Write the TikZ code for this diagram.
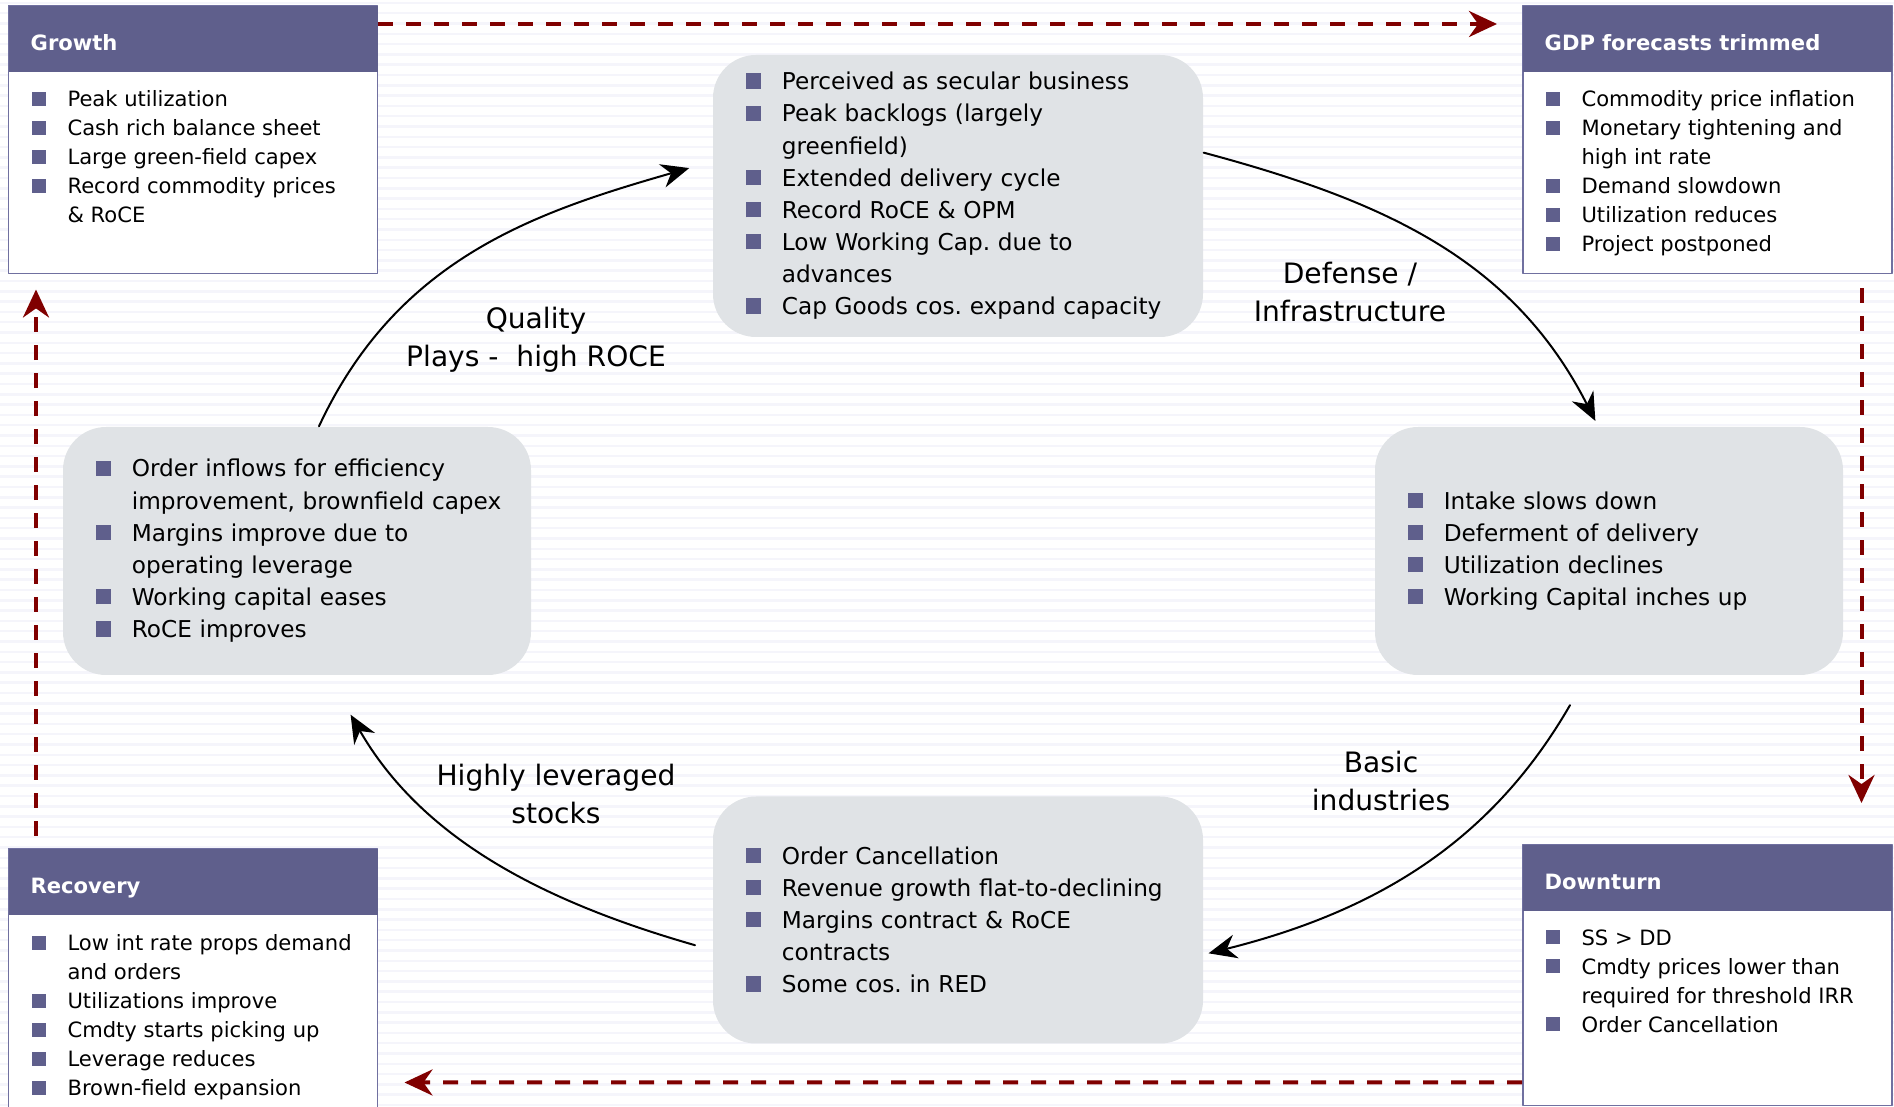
\documentclass[tikz,border=0pt]{standalone}
\usepackage{fontspec}
\setmainfont{DejaVu Sans}
\usepackage{xcolor}
\usetikzlibrary{arrows.meta,positioning}
\frenchspacing

\definecolor{hdr}{RGB}{95,95,140}
\definecolor{frame}{RGB}{112,112,160}
\definecolor{gbox}{RGB}{224,227,230}
\definecolor{dred}{RGB}{128,0,0}
\definecolor{stripe}{RGB}{245,245,251}

% bullet lines: \bl for a new item, \cn for a wrapped line
\newlength{\bulind}
\setlength{\bulind}{10.2pt}
\newcommand{\bl}[1]{\mbox{\makebox[\bulind][l]{\textcolor{hdr}{\rule[0.05em]{0.66em}{0.66em}}}#1}}
\newcommand{\cn}[1]{\mbox{\hspace*{\bulind}#1}}

\begin{document}
\begin{tikzpicture}[x=0.1mm, y=0.1mm, line cap=round, line join=round,
	cornerbox/.style={draw=frame, line width=0.15mm, fill=white, anchor=north west, minimum width=36.9mm, inner sep=0pt},
	hdrbar/.style={fill=hdr, anchor=north west, minimum height=6.6mm, text width=32.5mm, inner xsep=2.2mm, inner ysep=0pt, text height=6.8pt, text depth=0pt, align=left, text=white, font=\fontsize{6}{7}\selectfont\bfseries},
	cornertext/.style={inner sep=0pt, align=left, font=\fontsize{6}{8.25}\selectfont},
	phase/.style={rounded corners=4.3mm, fill=gbox, inner xsep=3.3mm, inner ysep=0pt, align=left, font=\fontsize{6.6}{9.15}\selectfont},
	cyclelbl/.style={align=center, font=\fontsize{8}{10.8}\selectfont},
	cyclearr/.style={line width=0.2mm, -{Stealth[length=2.8mm,width=2.4mm]}},
	flowarr/.style={dred, line width=0.4mm, line cap=butt, dash pattern=on 1.5mm off 1.3mm, -{Stealth[length=2.8mm,width=2.6mm]}}]
	
	\useasboundingbox (0,0) rectangle (1894,1107);
	
	% Faint ruled background
	\foreach \yy in {2,12.3,...,1107}
	\draw[stripe, line width=0.25mm] (0,\yy) -- (1894,\yy);
	
	% Corner boxes of the macro cycle
	\node[cornerbox, minimum height=26.8mm] (growth) at (8,1102) {};
	\node[hdrbar] (growthhd) at (growth.north west) {Growth};
	\node[cornertext, below right=8.5mm and 2.3mm of growth.north west] (growthtx) {%
		\bl{Peak utilization}\\
		\bl{Cash rich balance sheet}\\
		\bl{Large green-field capex}\\
		\bl{Record commodity prices}\\
		\cn{\& RoCE}};
	
	\node[cornerbox, minimum height=26.8mm] (gdp) at (1522,1102) {};
	\node[hdrbar] (gdphd) at (gdp.north west) {GDP forecasts trimmed};
	\node[cornertext, below right=8.5mm and 2.3mm of gdp.north west] (gdptx) {%
		\bl{Commodity price inflation}\\
		\bl{Monetary tightening and}\\
		\cn{high int rate}\\
		\bl{Demand slowdown}\\
		\bl{Utilization reduces}\\
		\bl{Project postponed}};
	
	\node[cornerbox, minimum height=26.1mm] (downturn) at (1522,263) {};
	\node[hdrbar] (downturnhd) at (downturn.north west) {Downturn};
	\node[cornertext, below right=8.5mm and 2.3mm of downturn.north west] (downturntx) {%
		\bl{SS > DD}\\
		\bl{Cmdty prices lower than}\\
		\cn{required for threshold IRR}\\
		\bl{Order Cancellation}};
	
	\node[cornerbox, minimum height=26.8mm] (recovery) at (8,259) {};
	\node[hdrbar] (recoveryhd) at (recovery.north west) {Recovery};
	\node[cornertext, below right=8.6mm and 2.3mm of recovery.north west] (recoverytx) {%
		\bl{Low int rate props demand}\\
		\cn{and orders}\\
		\bl{Utilizations improve}\\
		\bl{Cmdty starts picking up}\\
		\bl{Leverage reduces}\\
		\bl{Brown-field expansion}};
	
	% Dashed flow round the corners
	\draw[flowarr] ([yshift=-1.9mm]growth.north east) -- ([xshift=-2.5mm,yshift=-1.9mm]gdp.north west);
	\draw[flowarr] ([xshift=-3.1mm,yshift=-1.4mm]gdp.south east) -- ([xshift=-3.1mm,yshift=4.1mm]downturn.north east);
	\draw[flowarr] ([yshift=2.4mm]downturn.south west) -- ([xshift=2.6mm,yshift=3.5mm]recovery.south east);
	\draw[flowarr] ([xshift=2.8mm,yshift=1.2mm]recovery.north west) -- ([xshift=2.8mm,yshift=-1.5mm]growth.south west);
	
	% Phases of the capital goods cycle
	\node[phase, text width=42.4mm, minimum height=28.2mm] (boom) at (958,911) {%
		\bl{Perceived as secular business}\\
		\bl{Peak backlogs (largely}\\
		\cn{greenfield)}\\
		\bl{Extended delivery cycle}\\
		\bl{Record RoCE \& OPM}\\
		\bl{Low Working Cap. due to}\\
		\cn{advances}\\
		\bl{Cap Goods cos. expand capacity}};
	
	\node[phase, text width=40.2mm, minimum height=24.8mm] (slowdown) at (1609,556) {%
		\bl{Intake slows down}\\
		\bl{Deferment of delivery}\\
		\bl{Utilization declines}\\
		\bl{Working Capital inches up}};
	
	\node[phase, text width=42.4mm, minimum height=24.7mm] (slump) at (958,187) {%
		\bl{Order Cancellation}\\
		\bl{Revenue growth flat-to-declining}\\
		\bl{Margins contract \& RoCE}\\
		\cn{contracts}\\
		\bl{Some cos. in RED}};
	
	\node[phase, text width=40.2mm, minimum height=24.8mm] (upturn) at (297,556) {%
		\bl{Order inflows for efficiency}\\
		\cn{improvement, brownfield capex}\\
		\bl{Margins improve due to}\\
		\cn{operating leverage}\\
		\bl{Working capital eases}\\
		\bl{RoCE improves}};
	
	% Cycle arrows
	\draw[cyclearr, shorten >=2.4mm] (upturn.80) to[out=65,in=196] (boom.172);
	\draw[cyclearr, shorten >=0.6mm] (boom.10) to[out=-15,in=117] (slowdown.95);
	\draw[cyclearr, shorten <=3.4mm, shorten >=0.5mm] (slowdown.260) to[out=240,in=14] (slump.352);
	\draw[cyclearr, shorten <=1.8mm, shorten >=4.5mm] (slump.187) to[out=164,in=-60] (upturn.284);
	
	% Labels on the cycle
	\node[cyclelbl] (quality) at (536,767) {Quality\\Plays -\ \ high ROCE};
	\node[cyclelbl] (defense) at (1350,815) {Defense /\\Infrastructure};
	\node[cyclelbl] (basic) at (1381,326) {Basic\\industries};
	\node[cyclelbl] (levered) at (556,313) {Highly leveraged\\stocks};
	
\end{tikzpicture}
\end{document}
